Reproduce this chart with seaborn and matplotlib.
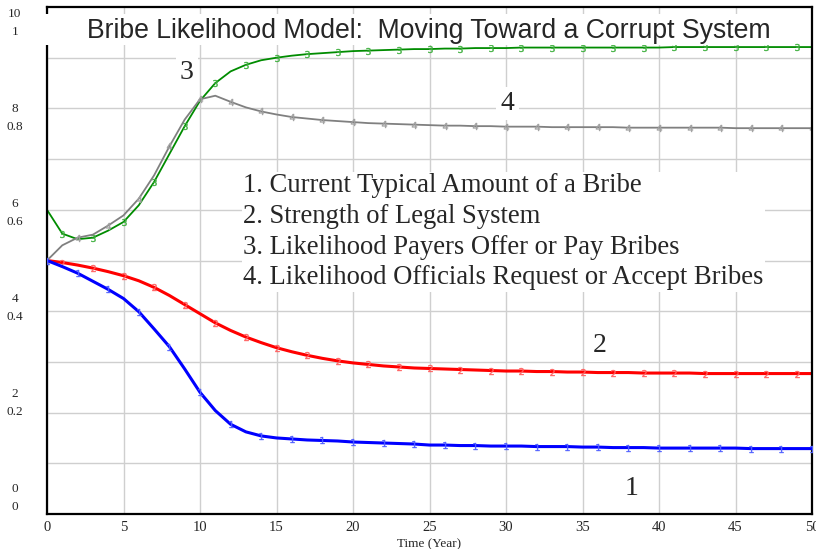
import numpy as np
import matplotlib
matplotlib.use("Agg")
import matplotlib.pyplot as plt
from matplotlib.patches import Rectangle
import seaborn as sns

# Time axis (years) and the four simulated series
years = list(range(0, 51))

# 1. Current Typical Amount of a Bribe (0-10 scale)
bribe_amount = [5.00, 4.88, 4.75, 4.59, 4.43, 4.25, 3.99, 3.65, 3.30, 2.86,
                2.40, 2.04, 1.77, 1.62, 1.54, 1.50, 1.48, 1.46, 1.45, 1.44,
                1.42, 1.41, 1.40, 1.39, 1.38, 1.36, 1.36, 1.35, 1.35, 1.34,
                1.34, 1.34, 1.33, 1.33, 1.33, 1.32, 1.32, 1.31, 1.31, 1.31,
                1.30, 1.30, 1.30, 1.30, 1.30, 1.30, 1.29, 1.29, 1.29, 1.29,
                1.29]
# 2. Strength of Legal System (0-1)
legal_strength = [0.500, 0.496, 0.491, 0.485, 0.478, 0.470, 0.460, 0.447, 0.431, 0.413,
                  0.395, 0.377, 0.362, 0.349, 0.338, 0.328, 0.320, 0.313, 0.307, 0.302,
                  0.298, 0.295, 0.292, 0.290, 0.288, 0.287, 0.286, 0.285, 0.284, 0.283,
                  0.282, 0.282, 0.281, 0.281, 0.280, 0.280, 0.279, 0.279, 0.279, 0.278,
                  0.278, 0.278, 0.278, 0.277, 0.277, 0.277, 0.277, 0.277, 0.277, 0.277,
                  0.277]
# 3. Likelihood Payers Offer or Pay Bribes (0-1)
payers_likelihood = [0.600, 0.553, 0.542, 0.545, 0.559, 0.576, 0.609, 0.655, 0.710, 0.765,
                     0.815, 0.850, 0.873, 0.886, 0.895, 0.900, 0.904, 0.907, 0.909, 0.911,
                     0.913, 0.914, 0.915, 0.916, 0.917, 0.917, 0.918, 0.918, 0.919, 0.919,
                     0.919, 0.920, 0.920, 0.920, 0.920, 0.920, 0.920, 0.920, 0.920, 0.920,
                     0.920, 0.921, 0.921, 0.921, 0.921, 0.921, 0.921, 0.921, 0.921, 0.921,
                     0.921]
# 4. Likelihood Officials Request or Accept Bribes (0-1)
officials_likelihood = [0.500, 0.530, 0.545, 0.551, 0.569, 0.589, 0.622, 0.668, 0.725, 0.778,
                        0.818, 0.825, 0.813, 0.802, 0.794, 0.788, 0.783, 0.780, 0.777, 0.775,
                        0.773, 0.771, 0.770, 0.769, 0.768, 0.767, 0.766, 0.766, 0.765, 0.765,
                        0.764, 0.764, 0.764, 0.763, 0.763, 0.763, 0.763, 0.763, 0.762, 0.762,
                        0.762, 0.762, 0.762, 0.762, 0.762, 0.761, 0.761, 0.761, 0.761, 0.761,
                        0.761]

legend_lines = ["1. Current Typical Amount of a Bribe",
                "2. Strength of Legal System",
                "3. Likelihood Payers Offer or Pay Bribes",
                "4. Likelihood Officials Request or Accept Bribes"]
left_labels_amount = ["10", "8", "6", "4", "2", "0"]
left_labels_prob = ["1", "0.8", "0.6", "0.4", "0.2", "0"]
title = "Bribe Likelihood Model:  Moving Toward a Corrupt System"

sns.set_theme(style="white")
plt.rcParams["font.family"] = ["Liberation Serif", "DejaVu Serif"]

fig = plt.figure(figsize=(8.16, 5.49), dpi=100)
ax = fig.add_axes([47 / 816, 35 / 549, 765 / 816, 507 / 549])
ax2 = ax.twinx()

ax.set_xlim(0, 50)
ax.set_ylim(0, 1)
ax2.set_ylim(0, 10)

# grid
ax.set_xticks(range(0, 51, 5))
ax.set_yticks(np.arange(0.1, 0.95, 0.1))
ax.set_yticklabels([])
ax.grid(True, color="#cfcfcf", lw=1.0)
ax.set_axisbelow(True)
ax.tick_params(axis="both", length=0)
ax.tick_params(axis="x", labelsize=10.5, pad=5)
ax.set_xlabel("Time (Year)", fontsize=9.5, labelpad=3)
for s in ax.spines.values():
    s.set_color("black")
    s.set_linewidth(1.6)
ax2.set_yticks([])
for s in ax2.spines.values():
    s.set_visible(False)

# series
sns.lineplot(x=years, y=legal_strength, ax=ax, color="#ff0000", lw=2.2,
             marker="$2$", markersize=5, markevery=(1, 2), markeredgewidth=0.3,
             markerfacecolor="#ff6060", markeredgecolor="#ff6060")
sns.lineplot(x=years, y=payers_likelihood, ax=ax, color="#008c00", lw=1.3,
             marker="$3$", markersize=5, markevery=(1, 2), markeredgewidth=0.3,
             markerfacecolor="#40b040", markeredgecolor="#40b040")
sns.lineplot(x=years, y=officials_likelihood, ax=ax, color="#808080", lw=1.3,
             marker="$4$", markersize=5, markevery=(0, 2), markeredgewidth=0.3,
             markerfacecolor="#a0a0a0", markeredgecolor="#a0a0a0")
sns.lineplot(x=years, y=bribe_amount, ax=ax2, color="#0000ff", lw=2.2,
             marker="$1$", markersize=5, markevery=(0, 2), markeredgewidth=0.3,
             markerfacecolor="#5060ff", markeredgecolor="#5060ff")

# dual left scale labels (Vensim style)
for frac, top, bot in zip(np.linspace(0.970, 0.032, 6), left_labels_amount, left_labels_prob):
    ax.text(-0.042, frac + 0.017, top, transform=ax.transAxes, ha="center", va="center", fontsize=9.5)
    ax.text(-0.042, frac - 0.019, bot, transform=ax.transAxes, ha="center", va="center", fontsize=9.5)

# title box
ax.add_patch(Rectangle((-0.003, 0.925), 0.975, 0.062, transform=ax.transAxes,
                       facecolor="white", edgecolor="none", zorder=3, clip_on=False))
ax.text(0.499, 0.953, title, transform=ax.transAxes, ha="center", va="center",
        fontsize=19.2, family=["Liberation Sans", "DejaVu Sans"], zorder=4)

# legend block
ax.text(12.8, 0.672, "\n".join(legend_lines), ha="left", va="top", fontsize=19.2,
        linespacing=1.3, zorder=4,
        bbox=dict(facecolor="white", edgecolor="none", pad=1))

# series number labels
for num, (lx, ly) in zip(["1", "2", "3", "4"], [(38.2, 0.050), (36.1, 0.332), (9.15, 0.870), (30.1, 0.810)]):
    ax.text(lx, ly, num, ha="center", va="center", fontsize=20, zorder=4,
            bbox=dict(facecolor="white", edgecolor="none", pad=3))

fig.savefig("out.png", dpi=100)
